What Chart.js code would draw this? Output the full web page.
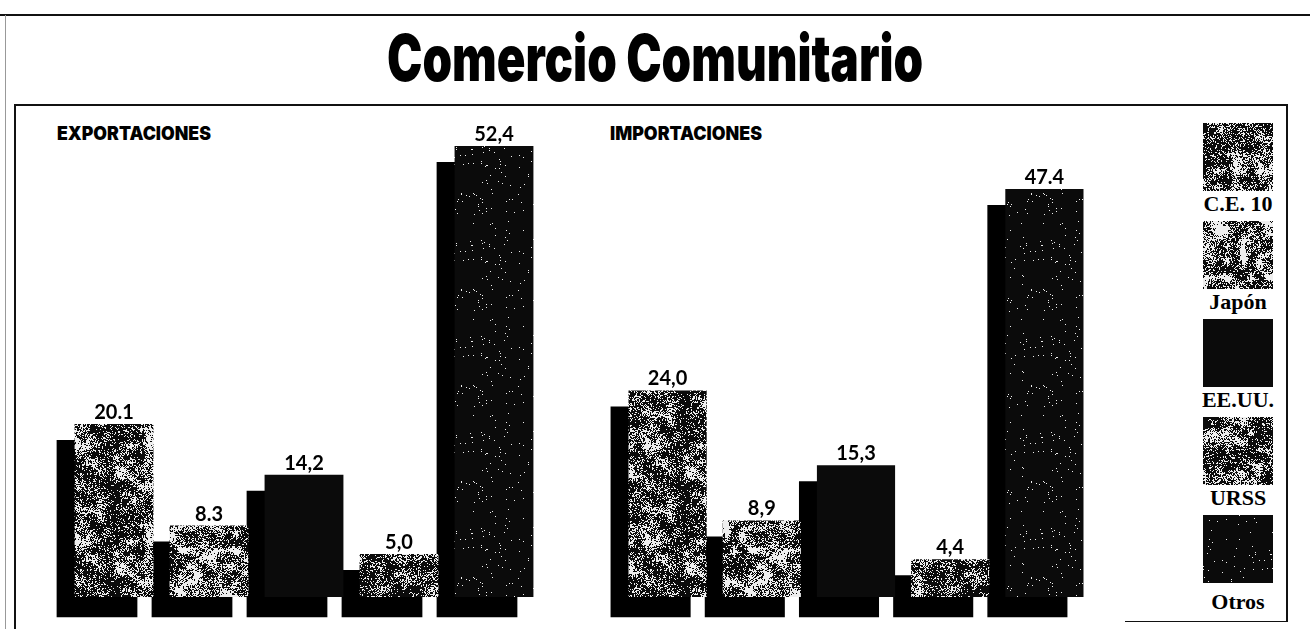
<!DOCTYPE html>
<html>
<head>
<meta charset="utf-8">
<script src="https://cdn.jsdelivr.net/npm/chart.js@4"></script>
<style>
  body { margin: 0; background: #fff; width: 1310px; height: 629px; position: relative; overflow: hidden; }
  .line { position: absolute; background: #111; }
  #title { position: absolute; top: 26px; left: 0; width: 1310px; text-align: center; white-space: nowrap;
           font: 900 64px Inter, Roboto, sans-serif; line-height: 64px; color: #000; }
  #title span { display: inline-block; transform-origin: center; }
  .panel { position: absolute; top: 124px; font: 900 19px Inter, Roboto, sans-serif;
           line-height: 20px; white-space: nowrap; transform-origin: left; color: #000; }
  canvas.chart { position: absolute; }
  .swatch { position: absolute; left: 1203px; width: 70px; height: 68px; }
  .lab { position: absolute; left: 1188px; width: 100px; text-align: center; font: bold 22px "Liberation Serif", "DejaVu Serif", serif;
         line-height: 22px; color: #000; white-space: nowrap; }
</style>
</head>
<body>
<div class="line" style="left:0;top:14px;width:1310px;height:2px"></div>
<div class="line" style="left:5px;top:15px;width:1px;height:614px;background:#999"></div>
<div class="line" style="left:14px;top:104px;width:1274px;height:2px"></div>
<div class="line" style="left:14px;top:104px;width:2px;height:525px"></div>
<div class="line" style="left:1286px;top:104px;width:2px;height:518px"></div>
<div class="line" style="left:1125px;top:621px;width:163px;height:1px"></div>

<div id="title"><span>Comercio Comunitario</span></div>
<div class="panel" id="expTitle" style="left:57px">EXPORTACIONES</div>
<div class="panel" id="impTitle" style="left:610px">IMPORTACIONES</div>

<canvas class="chart" id="exportChart" width="560" height="515" style="left:20px;top:110px"></canvas>
<canvas class="chart" id="importChart" width="520" height="515" style="left:590px;top:110px"></canvas>
<div id="legend"></div>

<script>
const categories = ['C.E. 10', 'Japón', 'EE.UU.', 'URSS', 'Otros'];
const exportValues = [20.1, 8.3, 14.2, 5.0, 52.4];
const importValues = [24.0, 8.9, 15.3, 4.4, 47.4];
const exportLabels = ['20.1', '8.3', '14,2', '5,0', '52,4'];
const importLabels = ['24,0', '8,9', '15,3', '4,4', '47.4'];

// share of white speckle in each category's print texture (0 = solid black)
const speckle = [0.55, 0.72, 0, 0.45, 0.02];

// small seeded generator so the print grain is the same on every run
function seeded(seed) {
    let s = seed >>> 0;
    return function () {
        s = (s * 1664525 + 1013904223) >>> 0;
        return s / 4294967296;
    };
}

function makeTile(p, seed) {
    const size = 96, cell = 8, n = size / cell;
    const tile = document.createElement('canvas');
    tile.width = size;
    tile.height = size;
    const t = tile.getContext('2d');
    t.fillStyle = '#0b0b0b';
    t.fillRect(0, 0, size, size);
    if (p <= 0) return tile;
    const rnd = seeded(seed);
    // smooth density map (wraps around) so the grain clumps into blotches
    const coarse = [];
    for (let i = 0; i < n * n; i++) coarse.push(rnd());
    const at = (gx, gy) => coarse[((gy + n) % n) * n + ((gx + n) % n)];
    t.fillStyle = '#eeeeee';
    for (let y = 0; y < size; y++) {
        for (let x = 0; x < size; x++) {
            const fx = x / cell, fy = y / cell;
            const gx = Math.floor(fx), gy = Math.floor(fy);
            const ax = fx - gx, ay = fy - gy;
            const top = at(gx, gy) * (1 - ax) + at(gx + 1, gy) * ax;
            const bot = at(gx, gy + 1) * (1 - ax) + at(gx + 1, gy + 1) * ax;
            const d = top * (1 - ay) + bot * ay;
            const local = p * (0.15 + 1.9 * d * d);
            if (rnd() < local) t.fillRect(x, y, 1, 1);
        }
    }
    return tile;
}

const tiles = speckle.map((p, i) => makeTile(p, 17 + i * 31));

// dark copy of each bar drawn shifted left and down, the printed 3D shadow
const shadowPlugin = {
    id: 'shadowPlugin',
    beforeDatasetDraw(chart, args) {
        if (args.index === 1) {
            chart.ctx.save();
            chart.ctx.translate(-17, 16);
        }
    },
    afterDatasetDraw(chart, args) {
        if (args.index === 1) chart.ctx.restore();
    }
};

const valueLabelPlugin = {
    id: 'valueLabelPlugin',
    afterDatasetsDraw(chart) {
        const ctx = chart.ctx;
        const texts = chart.options.plugins.valueLabelPlugin.texts;
        const meta = chart.getDatasetMeta(0);
        ctx.save();
        ctx.font = 'bold 20px Lato, sans-serif';
        ctx.fillStyle = '#000';
        ctx.textAlign = 'center';
        ctx.textBaseline = 'alphabetic';
        meta.data.forEach((bar, i) => {
            ctx.fillText(texts[i], bar.x, bar.y - 5);
        });
        ctx.restore();
    }
};

function makeChart(canvasId, values, texts, padding) {
    const canvas = document.getElementById(canvasId);
    const ctx = canvas.getContext('2d');
    const fills = tiles.map(t => ctx.createPattern(t, 'repeat'));
    return new Chart(ctx, {
        type: 'bar',
        data: {
            labels: categories,
            datasets: [{
                data: values,
                backgroundColor: fills,
                grouped: false,
                order: 0,
                clip: false,
                barPercentage: 0.83,
                categoryPercentage: 1
            }, {
                data: values,
                backgroundColor: '#000',
                grouped: false,
                order: 1,
                base: -0.5,
                clip: false,
                barPercentage: 0.85,
                categoryPercentage: 1
            }]
        },
        options: {
            responsive: false,
            animation: false,
            events: [],
            layout: { padding: padding },
            scales: {
                x: { display: false },
                y: { display: false, min: 0, max: 56 }
            },
            plugins: {
                legend: { display: false },
                tooltip: { enabled: false },
                valueLabelPlugin: { texts: texts }
            }
        },
        plugins: [shadowPlugin, valueLabelPlugin]
    });
}

makeChart('exportChart', exportValues, exportLabels, { left: 46.5, right: 38.5, top: 5, bottom: 28 });
makeChart('importChart', importValues, importLabels, { left: 30.5, right: 18.5, top: 5, bottom: 28 });

// legend on the right
const legend = document.getElementById('legend');
categories.forEach((name, i) => {
    const top = 123 + i * 98;
    const sw = document.createElement('canvas');
    sw.className = 'swatch';
    sw.width = 70;
    sw.height = 68;
    sw.style.top = top + 'px';
    const sctx = sw.getContext('2d');
    sctx.fillStyle = sctx.createPattern(tiles[i], 'repeat');
    sctx.fillRect(0, 0, 70, 68);
    legend.appendChild(sw);

    const lab = document.createElement('div');
    lab.className = 'lab';
    lab.textContent = name;
    lab.style.top = (top + (i === 4 ? 76 : 70)) + 'px';
    legend.appendChild(lab);
});

// squeeze the display type to the widths it has in print
function fitWidth(el, target) {
    const w = el.getBoundingClientRect().width;
    el.style.transform = 'scaleX(' + (target / w) + ')';
}
fitWidth(document.querySelector('#title span'), 536);
fitWidth(document.getElementById('expTitle'), 154);
fitWidth(document.getElementById('impTitle'), 152);
</script>
</body>
</html>
